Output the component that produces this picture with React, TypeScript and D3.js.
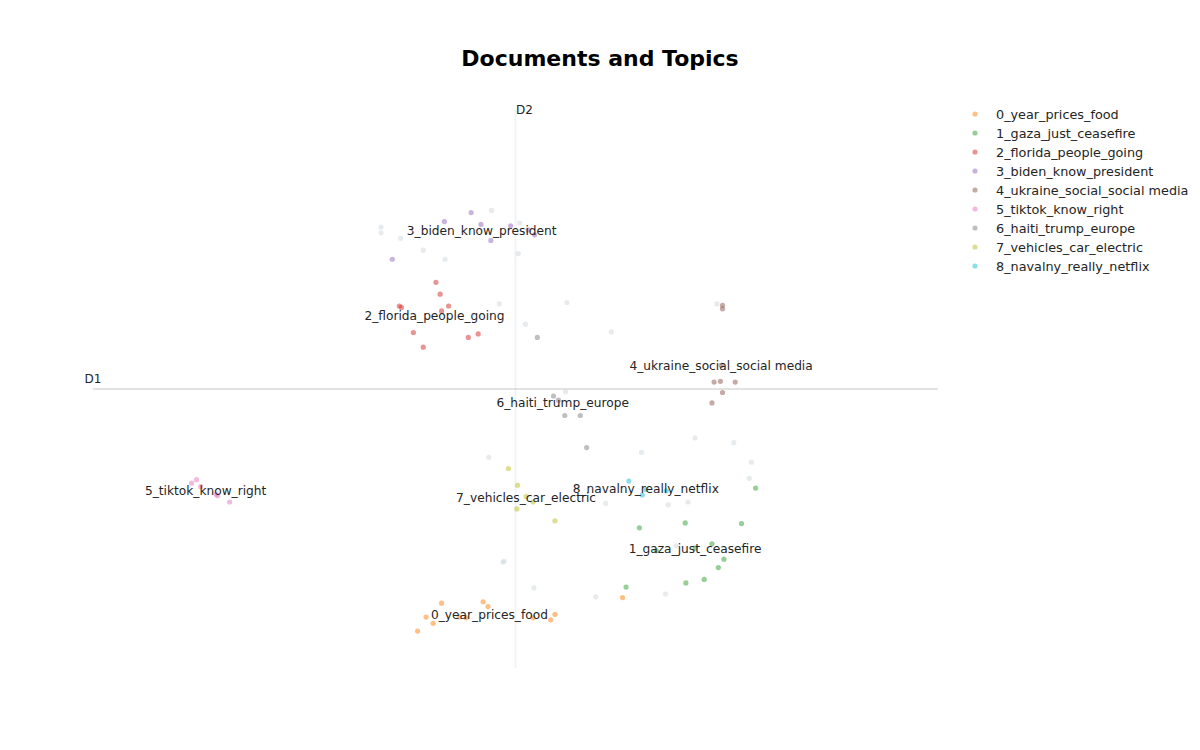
import React, { useRef, useEffect } from "react";
import * as d3 from "d3";

// Topic names (legend order)
const topicNames = [
  "0_year_prices_food",
  "1_gaza_just_ceasefire",
  "2_florida_people_going",
  "3_biden_know_president",
  "4_ukraine_social_social media",
  "5_tiktok_know_right",
  "6_haiti_trump_europe",
  "7_vehicles_car_electric",
  "8_navalny_really_netflix",
];

const topicColors = [
  "#ff7f0e", "#2ca02c", "#d62728", "#9467bd", "#8c564b",
  "#e377c2", "#7f7f7f", "#bcbd22", "#17becf",
];

// Document embeddings (2D) per topic: [D1, D2]
const topic0: [number, number][] = [
  [4.95, 0.93], [4.73, 0.73], [4.83, 0.64], [4.61, 0.53], [5.54, 0.95], [5.61, 0.88],
  [5.20, 0.73], [5.30, 0.72], [6.25, 0.72], [6.50, 0.69], [6.56, 0.77], [7.52, 1.01],
];
const topic1: [number, number][] = [
  [9.41, 2.58], [7.76, 2.01], [8.41, 2.08], [9.21, 2.07], [8.79, 1.78], [8.55, 1.72],
  [8.00, 1.68], [8.96, 1.56], [8.88, 1.44], [8.68, 1.27], [8.42, 1.22], [7.57, 1.16],
];
const topic2: [number, number][] = [
  [4.87, 5.53], [4.93, 5.36], [5.05, 5.19], [4.95, 5.12], [4.35, 5.19], [4.38, 5.17],
  [4.55, 4.81], [4.69, 4.60], [5.33, 4.74], [5.47, 4.79],
];
const topic3: [number, number][] = [
  [4.99, 6.40], [5.37, 6.53], [5.51, 6.36], [5.65, 6.13], [5.93, 6.34], [4.25, 5.86],
  [6.18, 6.28], [6.27, 6.21],
];
const topic4: [number, number][] = [
  [8.94, 5.20], [8.94, 5.15], [8.92, 4.34], [8.82, 4.10], [8.91, 4.11], [9.12, 4.10],
  [8.94, 3.95], [8.79, 3.80],
];
const topic5: [number, number][] = [
  [1.40, 2.65], [1.47, 2.70], [1.53, 2.60], [1.75, 2.49], [1.77, 2.47], [1.94, 2.38],
];
const topic6: [number, number][] = [
  [6.54, 3.90], [6.61, 3.84], [6.70, 3.62], [6.92, 3.62], [7.01, 3.16], [6.31, 4.74],
];
const topic7: [number, number][] = [
  [5.90, 2.86], [6.03, 2.62], [6.15, 2.46], [6.25, 2.38], [6.02, 2.28], [6.56, 2.11],
];
const topic8: [number, number][] = [
  [7.61, 2.68], [7.85, 2.56], [7.80, 2.48], [8.14, 2.54],
];
const topicDocs = [topic0, topic1, topic2, topic3, topic4, topic5, topic6, topic7, topic8];

// Other documents (not in selected topics)
const otherDocs: [number, number][] = [
  [4.09, 6.32], [4.09, 6.24], [4.37, 6.16], [4.69, 5.99], [5.00, 5.86], [5.66, 6.56],
  [6.06, 6.38], [6.04, 5.94], [5.77, 5.22], [6.14, 4.93], [6.73, 5.24], [7.36, 4.82],
  [8.86, 5.22], [6.71, 3.96], [5.62, 3.02], [7.79, 3.09], [8.55, 3.30], [9.10, 3.23],
  [9.35, 2.95], [9.32, 2.72], [7.28, 2.36], [8.17, 2.34], [8.45, 2.38], [8.28, 1.75],
  [7.14, 1.02], [8.13, 1.06], [5.82, 1.52], [5.84, 1.53], [6.26, 1.15],
];

// Topic label positions (centroids)
const labelPositions: [number, number][] = [
  [5.63, 0.77], [8.55, 1.71], [4.85, 5.05], [5.52, 6.27], [8.92, 4.34],
  [1.60, 2.55], [6.67, 3.80], [6.15, 2.44], [7.85, 2.57],
];

const xRange: [number, number] = [0, 12];
const yRange: [number, number] = [0, 8];

const FONT = "'DejaVu Sans', Verdana, sans-serif";

export default function App() {
  const svgRef = useRef<SVGSVGElement>(null);

  useEffect(() => {
    if (!svgRef.current) return;
    const svg = d3.select(svgRef.current);
    svg.selectAll("*").remove();

    const width = 1200;
    const height = 750;
    const plot = { left: 93, right: 938, top: 110, bottom: 668 };

    const x = d3.scaleLinear().domain(xRange).range([plot.left, plot.right]);
    const y = d3.scaleLinear().domain(yRange).range([plot.bottom, plot.top]);

    svg.append("rect").attr("width", width).attr("height", height).attr("fill", "#fff");

    const xMid = (xRange[0] + xRange[1]) / 2;
    const yMid = (yRange[0] + yRange[1]) / 2;

    // center cross lines
    svg.append("line")
      .attr("x1", x(xMid)).attr("x2", x(xMid))
      .attr("y1", y(yRange[0])).attr("y2", y(yRange[1]))
      .attr("stroke", "#CFD8DC").attr("stroke-opacity", 0.3).attr("stroke-width", 2);
    svg.append("line")
      .attr("x1", x(xRange[0])).attr("x2", x(xRange[1]))
      .attr("y1", y(yMid)).attr("y2", y(yMid))
      .attr("stroke", "#9E9E9E").attr("stroke-opacity", 0.3).attr("stroke-width", 2);

    // other docs
    svg.append("g").selectAll("circle")
      .data(otherDocs)
      .join("circle")
      .attr("cx", d => x(d[0]))
      .attr("cy", d => y(d[1]))
      .attr("r", 2.6)
      .attr("fill", "#CFD8DC")
      .attr("fill-opacity", 0.5);

    // topic docs
    topicDocs.forEach((docs, i) => {
      svg.append("g").selectAll("circle")
        .data(docs)
        .join("circle")
        .attr("cx", d => x(d[0]))
        .attr("cy", d => y(d[1]))
        .attr("r", 2.6)
        .attr("fill", topicColors[i])
        .attr("fill-opacity", 0.5);
    });

    // topic labels
    labelPositions.forEach((p, i) => {
      svg.append("text")
        .attr("x", x(p[0]))
        .attr("y", y(p[1]))
        .attr("dy", "0.36em")
        .attr("text-anchor", "middle")
        .style("font-family", FONT)
        .style("font-size", "12.2px")
        .style("fill", "#242424")
        .text(topicNames[i]);
    });

    // axis annotations
    svg.append("text")
      .attr("x", x(xRange[0]))
      .attr("y", y(yMid) - 10)
      .attr("dy", "0.36em")
      .attr("text-anchor", "middle")
      .style("font-family", FONT)
      .style("font-size", "12px")
      .style("fill", "#242424")
      .text("D1");
    svg.append("text")
      .attr("x", x(xMid) + 9)
      .attr("y", y(yRange[1]))
      .attr("dy", "0.36em")
      .attr("text-anchor", "middle")
      .style("font-family", FONT)
      .style("font-size", "12px")
      .style("fill", "#242424")
      .text("D2");

    // title
    svg.append("text")
      .attr("x", width / 2)
      .attr("y", 66)
      .attr("text-anchor", "middle")
      .style("font-family", FONT)
      .style("font-size", "22px")
      .style("font-weight", "bold")
      .style("fill", "#000")
      .text("Documents and Topics");

    // legend
    const legend = svg.append("g").attr("transform", "translate(975,114)");
    topicNames.forEach((name, i) => {
      const row = legend.append("g").attr("transform", `translate(0,${i * 19})`);
      row.append("circle")
        .attr("r", 2.6)
        .attr("fill", topicColors[i])
        .attr("fill-opacity", 0.5);
      row.append("text")
        .attr("x", 21)
        .attr("dy", "0.36em")
        .style("font-family", FONT)
        .style("font-size", "12.8px")
        .style("fill", "#242424")
        .text(name);
    });
  }, []);

  return (
    <svg
      ref={svgRef}
      width={1200}
      height={750}
      style={{ position: "absolute", left: 0, top: 0 }}
    />
  );
}
